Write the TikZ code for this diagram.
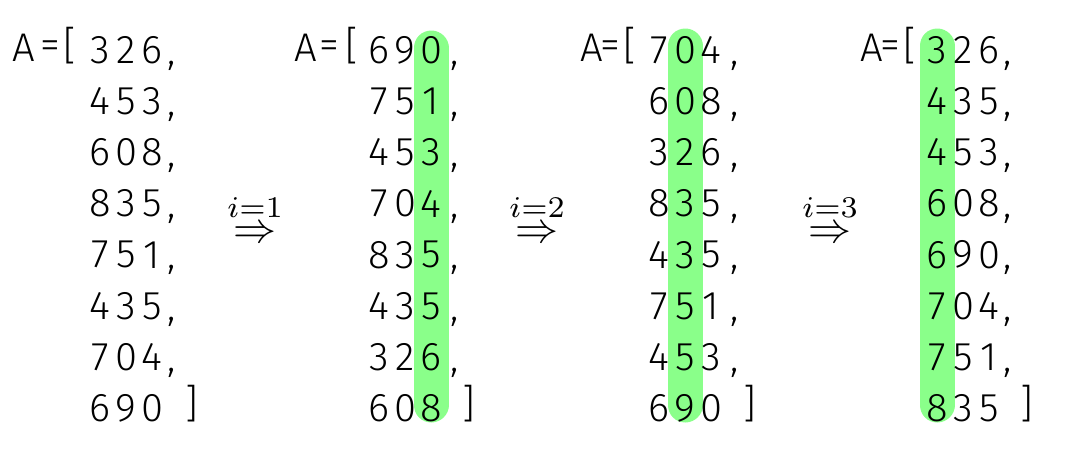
\documentclass[tikz,border=0pt]{standalone}
\usepackage{fontspec}
\setmainfont{Fira Sans}[UprightFont=* Light]
\usepackage{tikz}
\usetikzlibrary{positioning}
\definecolor{barGreen}{RGB}{138,255,138}
\tikzstyle{digit} = [inner sep=0pt, font=\fontsize{40}{40}\selectfont]
\tikzstyle{punct} = [inner sep=0pt, anchor=base, font=\fontsize{40}{40}\selectfont]
\tikzstyle{bar} = [draw=barGreen, line width=35pt, line cap=round]
\tikzstyle{passarrow} = [inner sep=0pt]
\newcommand{\passlabel}[1]{\scalebox{4.3}{$\stackrel{i=#1}{\Rightarrow}$}}

\begin{document}
\begin{tikzpicture}[x=1pt, y=-1pt]

        \useasboundingbox (0,0) rectangle (1078,448);

        % highlighted digit of each pass
        \coordinate (bar2top) at (431,48);
        \coordinate (bar2bot) at (431,405);
        \coordinate (bar3top) at (685,46);
        \coordinate (bar3bot) at (685,405);
        \coordinate (bar4top) at (937,46);
        \coordinate (bar4bot) at (937,405);
        \draw [bar] (bar2top) -- (bar2bot);
        \draw [bar] (bar3top) -- (bar3bot);
        \draw [bar] (bar4top) -- (bar4bot);

        % A = [
        \node (eqA1) [digit] at (24,48) {A};
        \node (eqS1) [digit] at (50,50) {=};
        \node (open1) [digit] at (70,46) {[};
        \node (eqA2) [digit] at (306,48) {A};
        \node (eqS2) [digit] at (329,50) {=};
        \node (open2) [digit] at (352,46) {[};
        \node (eqA3) [digit] at (592,48) {A};
        \node (eqS3) [digit] at (610,50) {=};
        \node (open3) [digit] at (630,46) {[};
        \node (eqA4) [digit] at (872,48) {A};
        \node (eqS4) [digit] at (890,50) {=};
        \node (open4) [digit] at (910,46) {[};

        % the four arrays
        \foreach \a/\b/\c [count=\r] in {3/2/6,4/5/3,6/0/8,8/3/5,7/5/1,4/3/5,7/0/4,6/9/0} {
            \node (pa\r) [digit] at (100,50+51.2*\r-51.2) {\a};
            \node (pb\r) [digit] at (126,50+51.2*\r-51.2) {\b};
            \node (pc\r) [digit] at (152,50+51.2*\r-51.2) {\c};
        }
        \foreach \a/\b/\c [count=\r] in {6/9/0,7/5/1,4/5/3,7/0/4,8/3/5,4/3/5,3/2/6,6/0/8} {
            \node (qa\r) [digit] at (379,50+51.2*\r-51.2) {\a};
            \node (qb\r) [digit] at (405,50+51.2*\r-51.2) {\b};
            \node (qc\r) [digit] at (431,50+51.2*\r-51.2) {\c};
        }
        \foreach \a/\b/\c [count=\r] in {7/0/4,6/0/8,3/2/6,8/3/5,4/3/5,7/5/1,4/5/3,6/9/0} {
            \node (ra\r) [digit] at (659,50+51.2*\r-51.2) {\a};
            \node (rb\r) [digit] at (685,50+51.2*\r-51.2) {\b};
            \node (rc\r) [digit] at (711,50+51.2*\r-51.2) {\c};
        }
        \foreach \a/\b/\c [count=\r] in {3/2/6,4/3/5,4/5/3,6/0/8,6/9/0,7/0/4,7/5/1,8/3/5} {
            \node (sa\r) [digit] at (937,50+51.2*\r-51.2) {\a};
            \node (sb\r) [digit] at (963,50+51.2*\r-51.2) {\b};
            \node (sc\r) [digit] at (989,50+51.2*\r-51.2) {\c};
        }

        % commas and closing brackets
        \foreach \r in {1,...,7} {
            \node (pk\r) [punct] at (172,64+51.2*\r-51.2) {,};
            \node (qk\r) [punct] at (455,64+51.2*\r-51.2) {,};
            \node (rk\r) [punct] at (735,64+51.2*\r-51.2) {,};
            \node (sk\r) [punct] at (1008,64+51.2*\r-51.2) {,};
        }
        \node (close1) [digit] at (192,404) {]};
        \node (close2) [digit] at (469,404) {]};
        \node (close3) [digit] at (750,404) {]};
        \node (close4) [digit] at (1027,404) {]};

        % passes
        \node (pass1) [passarrow] at (255,218) {\passlabel{1}};
        \node (pass2) [passarrow] at (537,218) {\passlabel{2}};
        \node (pass3) [passarrow] at (830,218) {\passlabel{3}};

\end{tikzpicture}
\end{document}
